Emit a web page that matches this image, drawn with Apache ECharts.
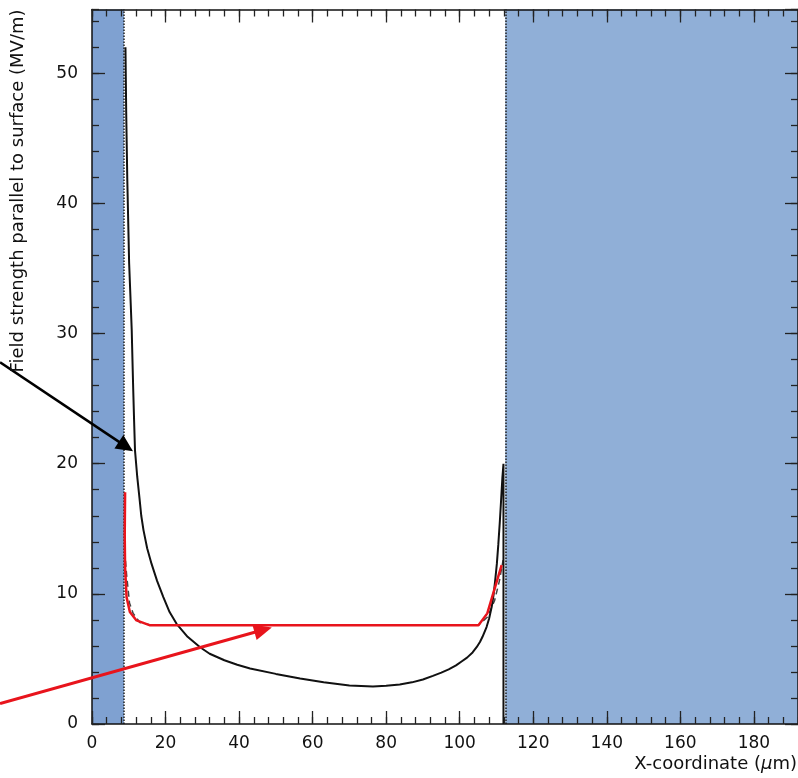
<!DOCTYPE html>
<html>
<head>
<meta charset="utf-8">
<script src="https://cdn.jsdelivr.net/npm/echarts@6/dist/echarts.min.js"></script>
<style>html,body{margin:0;padding:0;background:#fff;}#c{width:798px;height:778px;}</style>
</head>
<body>
<div id="c"></div>
<script>
// ---- data (x in µm, y in MV/m) ----
var xRange = [0, 192];
var yRange = [0, 54.9];
var xTickLabels = [0, 20, 40, 60, 80, 100, 120, 140, 160, 180];
var yTickLabels = [0, 10, 20, 30, 40, 50];
var leftRegion = [0, 8.7];
var rightRegion = [112.4, 192];
var fieldSolid = [
  [9.1, 52.0], [9.3, 47.0], [9.6, 41.8], [10.1, 35.4], [10.5, 32.5], [10.8, 30.3],
  [11.0, 28.0], [11.2, 25.8], [11.45, 23.3], [11.7, 21.0], [12.3, 19.0], [12.9, 17.4],
  [13.4, 16.0], [14.0, 14.9], [15.0, 13.5], [16.2, 12.3], [17.7, 11.0], [19.4, 9.75],
  [21.1, 8.6], [23.0, 7.7], [26.0, 6.7], [29.4, 5.9], [32.0, 5.4], [36.0, 4.9],
  [39.5, 4.55], [43.0, 4.27], [50.0, 3.85], [56.6, 3.5], [63.0, 3.2], [70.0, 2.96],
  [76.4, 2.88], [80.0, 2.93], [83.7, 3.04], [87.0, 3.2], [90.0, 3.42], [92.7, 3.7],
  [95.0, 3.95], [97.0, 4.2], [99.0, 4.5], [100.5, 4.8], [102.0, 5.1], [103.5, 5.5],
  [104.6, 5.9], [105.5, 6.3], [106.2, 6.7], [107.3, 7.45], [108.0, 8.1], [108.7, 9.0],
  [109.2, 9.9], [109.6, 10.9], [110.1, 12.3], [110.5, 13.8], [110.9, 15.5], [111.3, 17.4],
  [111.6, 18.9], [111.9, 20.0], [111.9, 0]
];
var fieldDashed = [
  [8.9, 13.3], [9.4, 11.5], [10.2, 9.3], [11.2, 8.5], [13.0, 7.8], [16.0, 7.6],
  [105.0, 7.58], [107.5, 8.2], [109.5, 9.5], [110.8, 11.0], [111.8, 12.6]
];
var fieldRed = [
  [9.0, 17.8], [8.9, 14.5], [9.0, 12.0], [9.4, 9.75], [10.3, 8.6], [12.1, 7.96],
  [15.8, 7.58], [105.1, 7.58], [107.5, 8.5], [111.4, 12.2]
];
var arrowBlack = [[-25.0, 27.8], [11.15, 20.96]];
var arrowRed = [[-25.0, 1.58], [48.9, 7.42]];

var FONT = 'DejaVu Sans';
var chart = echarts.init(document.getElementById('c'), null, {renderer: 'canvas'});

function xAx(grid, pos, interval, len, showLabel, lineOpacity) {
  return {
    type: 'value', gridIndex: grid, position: pos, min: xRange[0], max: xRange[1], interval: interval, z: 10,
    axisLine: {show: true, onZero: false, lineStyle: {color: '#111', width: 1.5, opacity: lineOpacity}},
    axisTick: {show: true, inside: true, length: len, lineStyle: {color: '#222', width: 1.3}},
    axisLabel: {show: showLabel, showMaxLabel: false, color: '#111', fontFamily: FONT, fontSize: 17, margin: 11,
      formatter: function (v) { return xTickLabels.indexOf(v) >= 0 ? String(v) : ''; }},
    splitLine: {show: false}
  };
}
function yAx(grid, pos, interval, len, showLabel, lineOpacity) {
  return {
    type: 'value', gridIndex: grid, position: pos, min: yRange[0], max: yRange[1], interval: interval, z: 10,
    axisLine: {show: true, onZero: false, lineStyle: {color: '#111', width: 1.5, opacity: lineOpacity}},
    axisTick: {show: true, inside: true, length: len, lineStyle: {color: '#222', width: 1.3}},
    axisLabel: {show: showLabel, showMaxLabel: false, color: '#111', fontFamily: FONT, fontSize: 17, margin: 14,
      formatter: function (v) { return yTickLabels.indexOf(v) >= 0 ? String(v) : ''; }},
    splitLine: {show: false}
  };
}

var gridBox = {left: 92, top: 9.5, right: 0, bottom: 54, containLabel: false};

var option = {
  animation: false,
  backgroundColor: '#fff',
  grid: [Object.assign({}, gridBox), Object.assign({}, gridBox), Object.assign({}, gridBox)],
  xAxis: [
    xAx(0, 'bottom', 20, 13, true, 1),
    xAx(0, 'top', 20, 13, false, 1),
    xAx(1, 'bottom', 4, 7, false, 0),
    xAx(2, 'top', 4, 7, false, 0)
  ],
  yAxis: [
    yAx(0, 'left', 10, 13, true, 1),
    yAx(0, 'right', 10, 13, false, 1),
    yAx(1, 'left', 2, 7, false, 0),
    yAx(2, 'right', 2, 7, false, 0)
  ],
  series: [
    {
      type: 'line', xAxisIndex: 0, yAxisIndex: 0, data: [], silent: true,
      markArea: {
        silent: true,
        data: [
          [{xAxis: leftRegion[0], itemStyle: {color: '#7fa1d1'}}, {xAxis: leftRegion[1]}],
          [{xAxis: rightRegion[0], itemStyle: {color: '#90afd7'}}, {xAxis: rightRegion[1]}]
        ]
      },
      markLine: {
        silent: true, symbol: 'none', label: {show: false},
        lineStyle: {type: 'dotted', color: '#222', width: 1.5},
        data: [{xAxis: leftRegion[1]}, {xAxis: rightRegion[0]}]
      }
    },
    {
      type: 'line', xAxisIndex: 0, yAxisIndex: 0, data: fieldDashed, showSymbol: false, z: 3,
      lineStyle: {color: '#444', width: 1.5, type: [6, 4]}
    },
    {
      type: 'line', xAxisIndex: 0, yAxisIndex: 0, data: fieldSolid, showSymbol: false, z: 4,
      lineStyle: {color: '#111', width: 2}
    },
    {
      type: 'line', xAxisIndex: 0, yAxisIndex: 0, data: fieldRed, showSymbol: false, z: 5,
      lineStyle: {color: '#e8141c', width: 2.5}
    },
    {type: 'line', xAxisIndex: 2, yAxisIndex: 2, data: [], silent: true},
    {type: 'line', xAxisIndex: 3, yAxisIndex: 3, data: [], silent: true}
  ]
};
chart.setOption(option);

function arrow(pts, color, width, headLen, headHalf) {
  var a = chart.convertToPixel({xAxisIndex: 0, yAxisIndex: 0}, pts[0]);
  var b = chart.convertToPixel({xAxisIndex: 0, yAxisIndex: 0}, pts[1]);
  var dx = b[0] - a[0], dy = b[1] - a[1];
  var L = Math.sqrt(dx * dx + dy * dy);
  var ux = dx / L, uy = dy / L;
  var bx = b[0] - ux * headLen, by = b[1] - uy * headLen;
  return [
    {type: 'line', z: 100, shape: {x1: a[0], y1: a[1], x2: bx + ux * 2, y2: by + uy * 2},
      style: {stroke: color, lineWidth: width}},
    {type: 'polygon', z: 100, shape: {points: [
      [b[0], b[1]], [bx - uy * headHalf, by + ux * headHalf], [bx + uy * headHalf, by - ux * headHalf]
    ]}, style: {fill: color}}
  ];
}

var graphics = [].concat(
  arrow(arrowBlack, '#000', 2.5, 17, 8),
  arrow(arrowRed, '#e8141c', 3, 18, 8),
  [
    {type: 'text', z: 100, x: 18, y: 191, rotation: Math.PI / 2,
      style: {text: 'Field strength parallel to surface (MV/m)', fontFamily: FONT, fontSize: 18,
        fill: '#111', align: 'center', verticalAlign: 'middle'}},
    {type: 'text', z: 100, x: 797, y: 764,
      style: {text: 'X-coordinate ({i|μ}m)', fontFamily: FONT, fontSize: 18, fill: '#111',
        align: 'right', verticalAlign: 'middle',
        rich: {i: {fontFamily: FONT, fontSize: 18, fontStyle: 'italic', fill: '#111'}}}}
  ]
);
chart.setOption({graphic: graphics});
</script>
</body>
</html>
